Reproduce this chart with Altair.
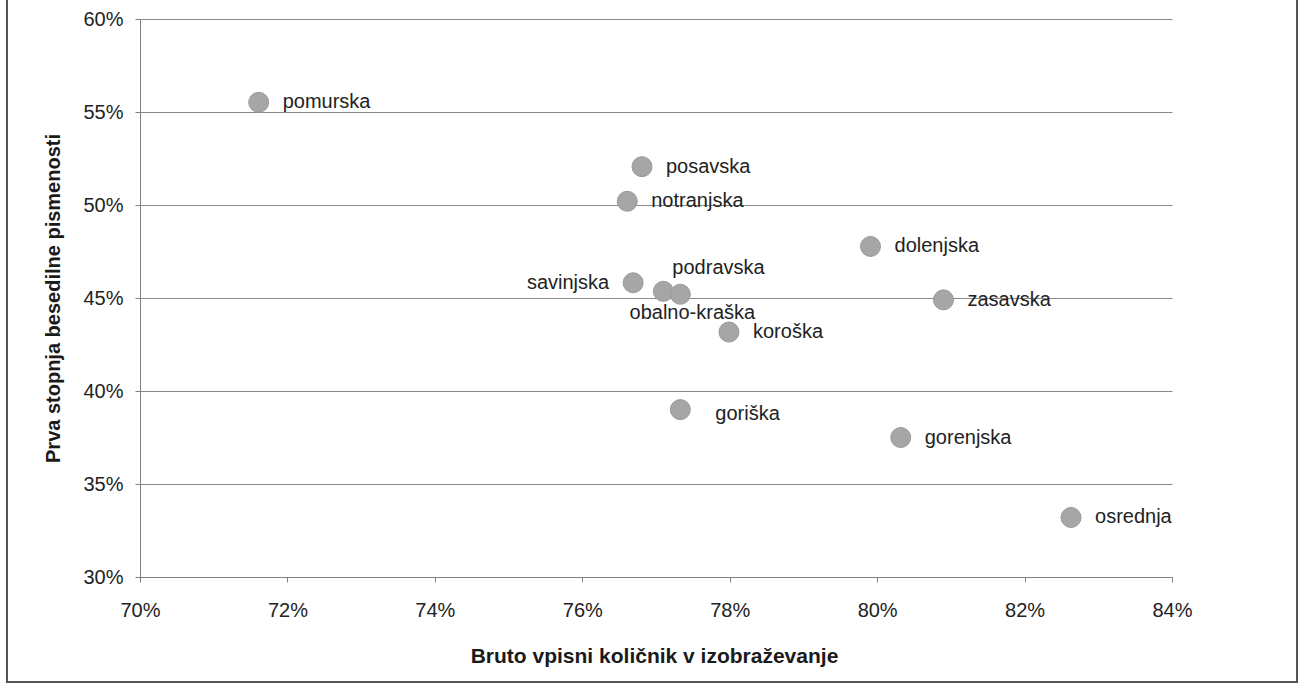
import altair as alt
import pandas as pd

regions = ["pomurska", "posavska", "notranjska", "dolenjska", "zasavska",
           "savinjska", "podravska", "obalno-kraška", "koroška", "goriška",
           "gorenjska", "osrednja"]
enrolment = [0.7161, 0.7681, 0.7661, 0.7991, 0.8090, 0.7669, 0.7710, 0.7733,
             0.7799, 0.7733, 0.8032, 0.8263]
literacy = [0.5552, 0.5206, 0.5020, 0.4777, 0.4490, 0.4582, 0.4536, 0.4520,
            0.4317, 0.3900, 0.3750, 0.3320]

x_ticks = [0.70, 0.72, 0.74, 0.76, 0.78, 0.80, 0.82, 0.84]
y_ticks = [0.30, 0.35, 0.40, 0.45, 0.50, 0.55, 0.60]

df = pd.DataFrame({"region": regions, "x": enrolment, "y": literacy})

FONT = "Liberation Sans"
W, H = 1032, 558

x_enc = alt.X("x:Q", scale=alt.Scale(domain=[0.70, 0.84], nice=False, zero=False),
              axis=alt.Axis(values=x_ticks, format=".0%", grid=False,
                            title="Bruto vpisni količnik v izobraževanje",
                            titleFont=FONT, titleFontSize=21, titleFontWeight="bold",
                            titleColor="#1a1a1a", titleX=W / 2 - 2, titleY=85,
                            titleBaseline="alphabetic", titleAlign="center",
                            labelFont=FONT, labelFontSize=20, labelColor="#222222",
                            labelPadding=18, tickSize=5, tickColor="#808080",
                            domainColor="#808080", labelFlush=False))
y_enc = alt.Y("y:Q", scale=alt.Scale(domain=[0.30, 0.60], nice=False, zero=False),
              axis=alt.Axis(values=y_ticks, format=".0%", grid=True,
                            gridColor="#8a8a8a", gridWidth=1,
                            title="Prva stopnja besedilne pismenosti",
                            titleFont=FONT, titleFontSize=20, titleFontWeight="bold",
                            titleColor="#1a1a1a", titleAngle=270, titleX=-81,
                            titleY=H / 2, titleBaseline="alphabetic",
                            titleAlign="center",
                            labelFont=FONT, labelFontSize=20, labelColor="#222222",
                            labelPadding=12, tickSize=5, tickColor="#808080",
                            domainColor="#808080", labelFlush=False))

base = alt.Chart(df)

points = base.mark_circle(size=400, opacity=1, fill="#a6a6a6",
                          stroke="#999999", strokeWidth=1).encode(x=x_enc, y=y_enc)

right_names = ["pomurska", "posavska", "notranjska", "dolenjska", "zasavska",
               "koroška", "gorenjska", "osrednja"]

def label_layer(names, **kw):
    return base.transform_filter(
        alt.FieldOneOfPredicate(field="region", oneOf=names)
    ).mark_text(font=FONT, fontSize=20, color="#222222", baseline="middle", **kw).encode(
        x="x:Q", y="y:Q", text="region:N")

labels_right = label_layer(right_names, align="left", dx=24)
label_gor = label_layer(["goriška"], align="left", dx=35, dy=4)
label_sav = label_layer(["savinjska"], align="right", dx=-24)
label_pod = label_layer(["podravska"], align="left", dx=9, dy=-23)
label_oba = label_layer(["obalno-kraška"], align="center", dx=12, dy=19)

frame = alt.Chart(pd.DataFrame({"f": [0]})).mark_rect(
    fill=None, stroke="#555555", strokeWidth=2).encode(
    x=alt.value(-133), x2=alt.value(1157), y=alt.value(-30), y2=alt.value(663))

chart = alt.layer(frame, points, labels_right, label_gor, label_sav, label_pod,
                  label_oba).properties(
    width=W, height=H,
    autosize=alt.AutoSizeParams(type="none"),
    padding={"left": 140, "top": 19, "right": 131, "bottom": 114},
    background="white",
).configure_view(stroke=None)

chart.save("out.html", embed_options={"renderer": "svg", "actions": False})
